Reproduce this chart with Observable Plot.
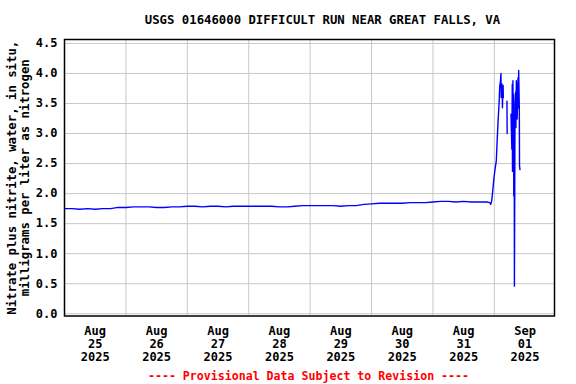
<!DOCTYPE html>
<html>
<head>
<meta charset="utf-8">
<script src="https://cdn.jsdelivr.net/npm/d3@7"></script>
<script src="https://cdn.jsdelivr.net/npm/@observablehq/plot@0.6"></script>
<style>
  html, body { margin: 0; padding: 0; background: #fff; }
</style>
</head>
<body>
<div id="chart"></div>
<script>
const titleText = "USGS 01646000 DIFFICULT RUN NEAR GREAT FALLS, VA";
const yLabel = "Nitrate plus nitrite, water, in situ,\nmilligrams per liter as nitrogen";
const footerText = "---- Provisional Data Subject to Revision ----";

const dayTickDates = ["2025-08-25", "2025-08-26", "2025-08-27", "2025-08-28", "2025-08-29", "2025-08-30", "2025-08-31", "2025-09-01"];
const dayTickLabels = ["Aug\n25\n2025", "Aug\n26\n2025", "Aug\n27\n2025", "Aug\n28\n2025", "Aug\n29\n2025", "Aug\n30\n2025", "Aug\n31\n2025", "Sep\n01\n2025"];
const yTicks = [0, 0.5, 1, 1.5, 2, 2.5, 3, 3.5, 4, 4.5];

const times = [
  "2025-08-25T00:00", "2025-08-25T03:00", "2025-08-25T06:00", "2025-08-25T09:00", "2025-08-25T12:00", "2025-08-25T15:00", "2025-08-25T18:00", "2025-08-25T21:00",
  "2025-08-26T00:00", "2025-08-26T03:00", "2025-08-26T06:00", "2025-08-26T09:00", "2025-08-26T12:00", "2025-08-26T15:00", "2025-08-26T18:00", "2025-08-26T21:00",
  "2025-08-27T00:00", "2025-08-27T03:00", "2025-08-27T06:00", "2025-08-27T09:00", "2025-08-27T12:00", "2025-08-27T15:00", "2025-08-27T18:00", "2025-08-27T21:00",
  "2025-08-28T00:00", "2025-08-28T03:00", "2025-08-28T06:00", "2025-08-28T09:00", "2025-08-28T12:00", "2025-08-28T15:00", "2025-08-28T18:00", "2025-08-28T21:00",
  "2025-08-29T00:00", "2025-08-29T03:00", "2025-08-29T06:00", "2025-08-29T09:00", "2025-08-29T12:00", "2025-08-29T15:00", "2025-08-29T18:00", "2025-08-29T21:00",
  "2025-08-30T00:00", "2025-08-30T03:00", "2025-08-30T06:00", "2025-08-30T09:00", "2025-08-30T12:00", "2025-08-30T15:00", "2025-08-30T18:00", "2025-08-30T21:00",
  "2025-08-31T00:00", "2025-08-31T03:00", "2025-08-31T06:00", "2025-08-31T09:00", "2025-08-31T12:00", "2025-08-31T15:00", "2025-08-31T18:00", "2025-08-31T21:00",
  "2025-08-31T22:15", "2025-08-31T22:35", "2025-08-31T22:55", "2025-08-31T23:10", "2025-08-31T23:25", "2025-08-31T23:50",
  "2025-09-01T00:20", "2025-09-01T00:45", "2025-09-01T01:00", "2025-09-01T01:25", "2025-09-01T01:50", "2025-09-01T02:05",
  "2025-09-01T02:20", "2025-09-01T02:35", "2025-09-01T02:40", "2025-09-01T03:00", "2025-09-01T03:10", "2025-09-01T03:15", "2025-09-01T03:25", "2025-09-01T03:30",
  "2025-09-01T04:10",
  "2025-09-01T04:55", "2025-09-01T05:00",
  "2025-09-01T05:45",
  "2025-09-01T06:30", "2025-09-01T06:50", "2025-09-01T07:00", "2025-09-01T07:05", "2025-09-01T07:15", "2025-09-01T07:20",
  "2025-09-01T07:30", "2025-09-01T07:35", "2025-09-01T07:45", "2025-09-01T07:50", "2025-09-01T08:05", "2025-09-01T08:20", "2025-09-01T08:25",
  "2025-09-01T08:35", "2025-09-01T08:50", "2025-09-01T08:55", "2025-09-01T09:15", "2025-09-01T09:20", "2025-09-01T09:30",
  "2025-09-01T09:45", "2025-09-01T09:50", "2025-09-01T10:00"
];
const nitrate = [
  1.75, 1.75, 1.74, 1.75, 1.74, 1.75, 1.75, 1.77,
  1.77, 1.78, 1.78, 1.78, 1.77, 1.77, 1.78, 1.78,
  1.79, 1.79, 1.78, 1.79, 1.79, 1.78, 1.79, 1.79,
  1.79, 1.79, 1.79, 1.79, 1.78, 1.78, 1.79, 1.80,
  1.80, 1.80, 1.80, 1.80, 1.79, 1.80, 1.80, 1.82,
  1.83, 1.84, 1.84, 1.84, 1.84, 1.85, 1.85, 1.85,
  1.86, 1.87, 1.87, 1.86, 1.87, 1.86, 1.86, 1.86,
  1.85, 1.82, 1.87, 1.96, 2.07, 2.26,
  2.43, 2.54, 2.79, 3.18, 3.49, 3.79,
  3.85, 4.00, 3.60, 3.82, 3.43, 3.66, 3.80, 3.60,
  null,
  3.54, 3.00,
  null,
  3.32, 2.74, 3.82, 2.37, 3.88, 2.95,
  3.66, 1.96, 3.27, 0.46, 3.49, 3.69, 3.10,
  3.88, 3.71, 3.24, 3.93, 3.43, 4.05,
  3.43, 2.46, 2.40
];

const data = times.map((t, i) => ({ date: new Date(t + "Z"), value: nitrate[i] }));
const midnights = dayTickDates.slice(1).map(d => new Date(d + "T00:00Z"));
const noons = dayTickDates.map(d => new Date(d + "T12:00Z"));

const font = "'DejaVu Sans Mono', 'Liberation Mono', monospace";

const chart = Plot.plot({
  width: 576,
  height: 384,
  marginLeft: 64,
  marginRight: 22,
  marginTop: 39,
  marginBottom: 68.5,
  style: { fontFamily: font, fontSize: "12px", fontWeight: "bold", color: "black", background: "white" },
  x: { type: "utc", domain: [new Date("2025-08-25T00:00Z"), new Date("2025-09-01T23:30Z")], axis: null },
  y: { domain: [-0.037, 4.565], axis: null },
  marks: [
    Plot.gridY(yTicks, { stroke: "#c8c8c8", strokeOpacity: 1, strokeWidth: 1 }),
    Plot.gridX(midnights, { stroke: "#c8c8c8", strokeOpacity: 1, strokeWidth: 1 }),
    Plot.axisY(yTicks, { tickSize: 0, tickPadding: 7, tickFormat: d3.format(".1f"), label: null, fontSize: 12, fontWeight: "bold" }),
    Plot.text(dayTickLabels, { x: (d, i) => noons[i], frameAnchor: "bottom", dy: 10, lineAnchor: "top", lineHeight: 1.08, fontSize: 12, fontWeight: "bold", fill: "black" }),
    Plot.line(data, { x: "date", y: "value", stroke: "#0000ff", strokeWidth: 1.4, curve: "linear" }),
    Plot.frame({ stroke: "black", strokeWidth: 1.5 }),
    Plot.text([titleText], { frameAnchor: "top", dx: 13, dy: -19, lineAnchor: "middle", fontSize: 12.3, fontWeight: "bold", fill: "black" }),
    Plot.text([yLabel], { frameAnchor: "left", dx: -46, dy: 0, rotate: -90, textAnchor: "middle", lineAnchor: "middle", lineHeight: 1.0, fontSize: 12.3, fontWeight: "bold", fill: "black" }),
    Plot.text([footerText], { frameAnchor: "bottom", dx: -1, dy: 60.5, lineAnchor: "middle", fontSize: 11.6, fontWeight: "bold", fill: "#ff0000" })
  ]
});
document.getElementById("chart").appendChild(chart);
</script>
</body>
</html>
